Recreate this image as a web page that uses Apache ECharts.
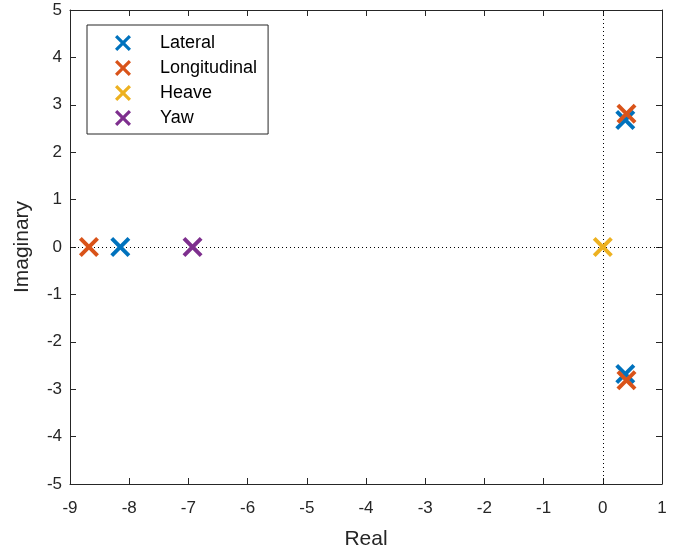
<!DOCTYPE html>
<html><head><meta charset="utf-8">
<script src="https://cdn.jsdelivr.net/npm/echarts@6/dist/echarts.min.js"></script>
<style>html,body{margin:0;padding:0;background:#fff}#c{width:680px;height:555px}</style>
</head><body><div id="c"></div>
<script>
var seriesNames = ['Lateral', 'Longitudinal', 'Heave', 'Yaw'];
var colors = ['#0072BD', '#D95319', '#EDB120', '#7E2F8E'];
var lateral = [[-8.15, 0], [0.38, 2.68], [0.38, -2.68]];
var longitudinal = [[-8.68, 0], [0.40, 2.81], [0.40, -2.81]];
var heave = [[0, 0]];
var yaw = [[-6.93, 0]];
var xTicks = [-9, -8, -7, -6, -5, -4, -3, -2, -1, 0, 1];
var yTicks = [-5, -4, -3, -2, -1, 0, 1, 2, 3, 4, 5];

var X = 'path://M2.8,0 L10,7.2 L17.2,0 L20,2.8 L12.8,10 L20,17.2 L17.2,20 L10,12.8 L2.8,20 L0,17.2 L7.2,10 L0,2.8 Z';
var ax = '#262626';
var font = 'Liberation Sans, Arial, sans-serif';
var datas = [lateral, longitudinal, heave, yaw];

function axisBase(show) {
  return {
    axisLine: {show: true, onZero: false, lineStyle: {color: ax, width: 1}},
    axisTick: {show: true, inside: true, length: 6, lineStyle: {color: ax}},
    splitLine: {show: false},
    axisLabel: {show: show, color: '#262626', fontSize: 17, fontFamily: font}
  };
}
var series = datas.map(function (d, i) {
  return {
    name: seriesNames[i], type: 'scatter', data: d, symbol: X, symbolSize: 20,
    itemStyle: {color: colors[i], opacity: 1}, z: 5
  };
});
series.push({
  type: 'line', data: [], silent: true,
  markLine: {
    silent: true, symbol: 'none', label: {show: false},
    lineStyle: {color: '#000', type: [1, 3], width: 1},
    data: [{xAxis: 0}, {yAxis: 0}]
  }
});
var xa = axisBase(true);
xa = Object.assign(xa, {type: 'value', min: -9, max: 1, interval: 1, name: 'Real', nameLocation: 'middle', nameGap: 45,
  nameTextStyle: {fontSize: 21, color: '#262626', fontFamily: font}});
xa.axisLabel.margin = 16;
xa.axisLabel.formatter = function (v) { return xTicks.indexOf(v) >= 0 ? String(v) : ''; };
var xa2 = Object.assign(axisBase(false), {type: 'value', min: -9, max: 1, interval: 1, position: 'top'});
var ya = axisBase(true);
ya = Object.assign(ya, {type: 'value', min: -5, max: 5, interval: 1, name: 'Imaginary', nameLocation: 'middle', nameGap: 37,
  nameTextStyle: {fontSize: 21, color: '#262626', fontFamily: font}});
ya.axisLabel.margin = 8;
ya.axisLabel.formatter = function (v) { return yTicks.indexOf(v) >= 0 ? String(v) : ''; };
var ya2 = Object.assign(axisBase(false), {type: 'value', min: -5, max: 5, interval: 1, position: 'right'});

var chart = echarts.init(document.getElementById('c'), null, {renderer: 'canvas'});
chart.setOption({
  animation: false,
  backgroundColor: '#fff',
  grid: {left: 70, right: 18, top: 10, bottom: 70, containLabel: false},
  xAxis: [xa, xa2],
  yAxis: [ya, ya2],
  legend: {
    orient: 'vertical', left: 87, top: 25, data: seriesNames,
    icon: X, itemWidth: 16, itemHeight: 16, itemGap: 7,
    padding: [9, 11, 7, 28],
    borderColor: ax, borderWidth: 1, backgroundColor: '#fff',
    textStyle: {fontSize: 18, color: '#000', fontFamily: font, padding: [0, 0, 0, 24]}
  },
  series: series
});
</script></body></html>
